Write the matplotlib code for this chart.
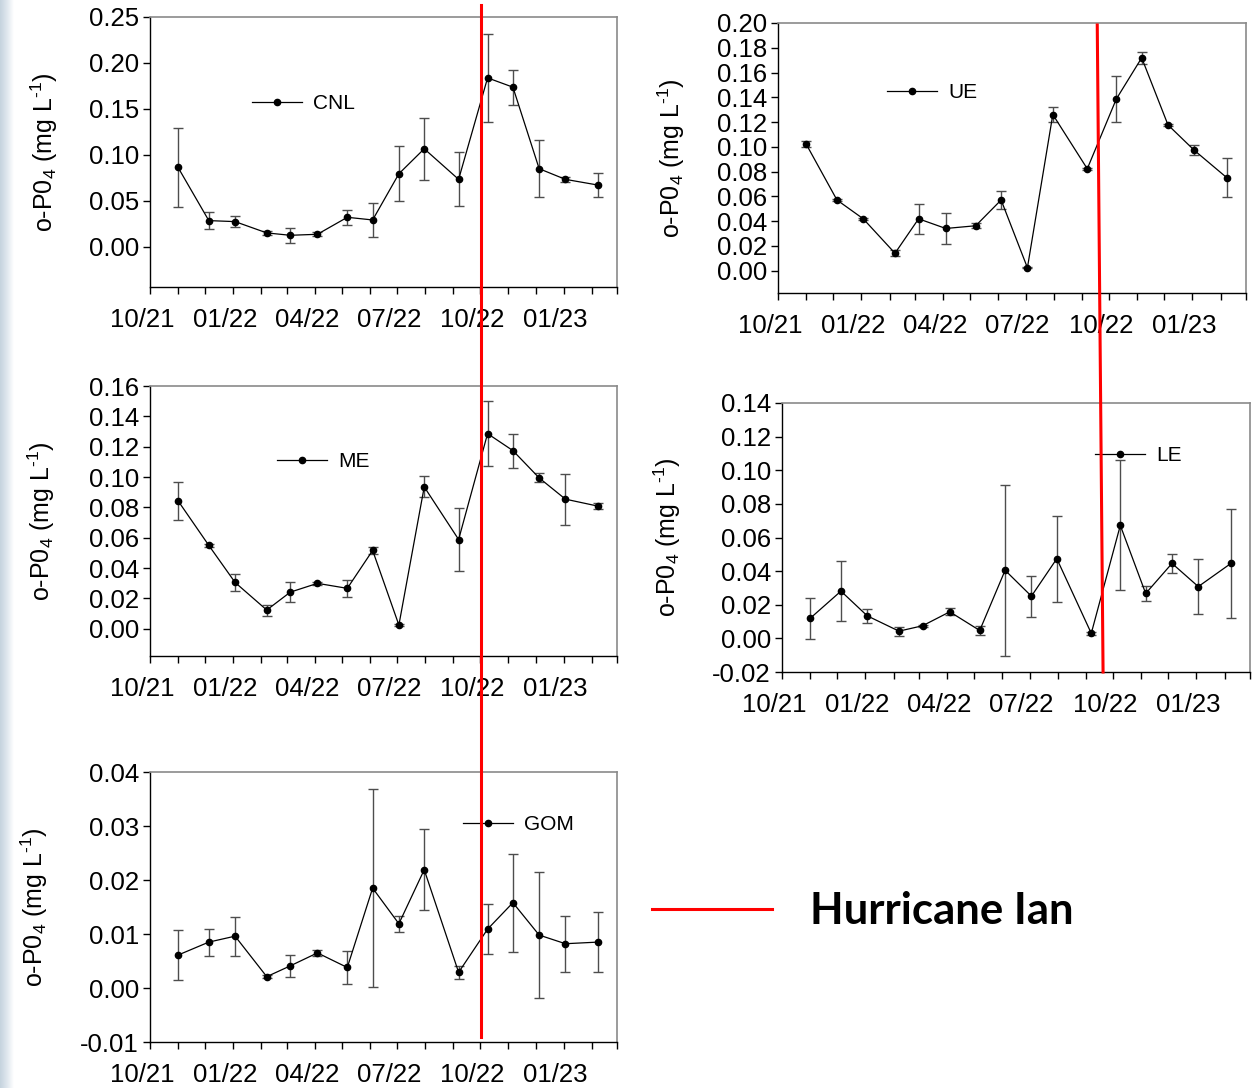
import matplotlib
matplotlib.use('Agg')
import matplotlib.pyplot as plt
import matplotlib.dates as mdates
import matplotlib.transforms as mtransforms
from matplotlib.lines import Line2D
from matplotlib.colors import LinearSegmentedColormap
import numpy as np
import pandas as pd

plt.rcParams['font.family'] = ['Liberation Sans', 'DejaVu Sans']
plt.rcParams['mathtext.fontset'] = 'custom'
plt.rcParams['mathtext.rm'] = 'Liberation Sans'
plt.rcParams['mathtext.it'] = 'Liberation Sans'

# sampling dates (same for every station)
dates = pd.to_datetime([
    '2021-11-01', '2021-12-05', '2022-01-03', '2022-02-07', '2022-03-05', '2022-04-04',
    '2022-05-07', '2022-06-04', '2022-07-03', '2022-07-31', '2022-09-07', '2022-10-09',
    '2022-11-06', '2022-12-05', '2023-01-03', '2023-02-08'])

# o-PO4 means and error (mg/L) for each station
cnl = [0.0862, 0.0283, 0.0272, 0.0149, 0.0123, 0.0134, 0.0319, 0.0290,
       0.0793, 0.1065, 0.0732, 0.1837, 0.1736, 0.0848, 0.0732, 0.0670]
cnl_err = [0.0432, 0.0096, 0.0058, 0.0022, 0.0084, 0.0020, 0.0080, 0.0181,
           0.0300, 0.0335, 0.0293, 0.0477, 0.0189, 0.0312, 0.0025, 0.0127]

ue = [0.1023, 0.0571, 0.0419, 0.0141, 0.0419, 0.0341, 0.0363, 0.0571,
      0.0024, 0.1261, 0.0823, 0.1386, 0.1719, 0.1177, 0.0972, 0.0750]
ue_err = [0.0025, 0.0010, 0.0010, 0.0024, 0.0122, 0.0122, 0.0022, 0.0070,
          0.0005, 0.0064, 0.0007, 0.0186, 0.0047, 0.0010, 0.0040, 0.0156]

me = [0.0843, 0.0549, 0.0305, 0.0123, 0.0241, 0.0299, 0.0266, 0.0516,
      0.0024, 0.0935, 0.0588, 0.1286, 0.1174, 0.0994, 0.0854, 0.0808]
me_err = [0.0126, 0.0010, 0.0057, 0.0036, 0.0064, 0.0012, 0.0057, 0.0021,
          0.0005, 0.0070, 0.0205, 0.0213, 0.0112, 0.0030, 0.0168, 0.0022]

le = [0.0119, 0.0281, 0.0134, 0.0043, 0.0075, 0.0158, 0.0047, 0.0405,
      0.0251, 0.0474, 0.0030, 0.0672, 0.0267, 0.0446, 0.0308, 0.0446]
le_err = [0.0122, 0.0177, 0.0042, 0.0027, 0.0005, 0.0020, 0.0026, 0.0508,
          0.0122, 0.0255, 0.0010, 0.0386, 0.0042, 0.0056, 0.0163, 0.0326]

gom = [0.0061, 0.0085, 0.0096, 0.0021, 0.0041, 0.0065, 0.0038, 0.0185,
       0.0119, 0.0219, 0.0029, 0.0109, 0.0158, 0.0098, 0.0082, 0.0085]
gom_err = [0.0046, 0.0025, 0.0036, 0.0003, 0.0020, 0.0005, 0.0030, 0.0183,
           0.0015, 0.0075, 0.0012, 0.0046, 0.0091, 0.0116, 0.0052, 0.0055]

# hurricane marker dates (hand drawn lines in original)
ian_left = ['2022-10-02', '2022-10-02']
ian_right = ['2022-09-18', '2022-09-20']

W, H = 1256, 1088
fig = plt.figure(figsize=(W / 100, H / 100), dpi=100)


def px_box(x0, y0, x1, y1):
    return [x0 / W, 1 - y1 / H, (x1 - x0) / W, (y1 - y0) / H]


# light strip at left edge of slide
strip = fig.add_axes([0, 0, 14 / W, 1])
grad = np.linspace(0, 1, 50).reshape(1, -1)
cmap = LinearSegmentedColormap.from_list('strip', ['#c5d3de', '#dfe7ee', '#ffffff'])
strip.imshow(grad, aspect='auto', cmap=cmap, extent=[0, 1, 0, 1])
strip.axis('off')

panels = [
    # name, values, errors, box (px), ylim, ystep, legend anchor, ylabel x
    ('CNL', cnl, cnl_err, (150, 17, 617, 287), (-0.044, 0.25), 0.05, (0.218, 0.678), -0.193),
    ('UE', ue, ue_err, (778, 23, 1246, 293), (-0.018, 0.20), 0.02, (0.233, 0.741), -0.195),
    ('ME', me, me_err, (150, 386, 617, 656), (-0.018, 0.16), 0.02, (0.272, 0.719), -0.199),
    ('LE', le, le_err, (782, 403, 1250, 672), (-0.02, 0.14), 0.02, (0.669, 0.803), -0.212),
    ('GOM', gom, gom_err, (150, 772, 617, 1042), (-0.01, 0.04), 0.01, (0.670, 0.804), -0.214),
]

axes = {}
shift = mtransforms.ScaledTranslation(-8 / 100, 0, fig.dpi_scale_trans)
for name, vals, errs, box, ylim, step, leg_xy, ylab_x in panels:
    ax = fig.add_axes(px_box(*box))
    axes[name] = ax
    ax.errorbar(dates, vals, yerr=errs, fmt='none', ecolor='#4d4d4d',
                elinewidth=1.0, capsize=3.5, capthick=1.0, zorder=2)
    ax.plot(dates, vals, color='black', lw=0.9, marker='o', ms=4.5,
            mfc='black', mec='black', label=name, zorder=3)
    ax.set_xlim(pd.Timestamp('2021-10-01'), pd.Timestamp('2023-03-01'))
    ax.set_ylim(*ylim)
    start = 0.0 if ylim[0] > -step + 1e-9 else -step
    ax.set_yticks(np.round(np.arange(start, ylim[1] + 1e-9, step), 3))
    ax.yaxis.set_major_formatter(plt.FormatStrFormatter('%.2f'))
    ax.xaxis.set_major_locator(mdates.MonthLocator(bymonth=[1, 4, 7, 10]))
    ax.xaxis.set_minor_locator(mdates.MonthLocator())
    ax.xaxis.set_major_formatter(mdates.DateFormatter('%m/%y'))
    ax.tick_params(axis='both', which='both', direction='out', length=5,
                   width=1, color='black')
    ax.tick_params(axis='x', which='major', labelsize=18.5, pad=10)
    ax.tick_params(axis='y', which='major', labelsize=18.5, pad=3)
    for s in ['left', 'bottom']:
        ax.spines[s].set_color('black')
        ax.spines[s].set_linewidth(1.0)
    for s in ['top', 'right']:
        ax.spines[s].set_color('#8a8a8a')
        ax.spines[s].set_linewidth(1.2)
    ax.set_ylabel(r'o-P0$_4$ (mg L$^{\text{-1}}$)', fontsize=18)
    ax.yaxis.set_label_coords(ylab_x, 0.5)
    ax.legend(loc='center left', bbox_to_anchor=leg_xy, frameon=False,
              fontsize=15, handlelength=2.4, handletextpad=0.55,
              borderpad=0, borderaxespad=0)
    for lab in ax.get_xticklabels():
        lab.set_transform(lab.get_transform() + shift)


def fig_x(ax, date):
    xd = mdates.date2num(pd.Timestamp(date))
    disp = ax.transData.transform((xd, 0))
    return fig.transFigure.inverted().transform(disp)[0]


# Hurricane Ian lines across the columns
fig.add_artist(Line2D([fig_x(axes['CNL'], ian_left[0]), fig_x(axes['GOM'], ian_left[1])],
                      [1 - 5 / H, 1 - 1037 / H], color='#ff0000', lw=2.2,
                      transform=fig.transFigure, zorder=10))
fig.add_artist(Line2D([fig_x(axes['UE'], ian_right[0]), fig_x(axes['LE'], ian_right[1])],
                      [1 - 25 / H, 1 - 672 / H], color='#ff0000', lw=2.2,
                      transform=fig.transFigure, zorder=10))

ian_handle = Line2D([], [], color='#ff0000', lw=2.2)
fig.legend([ian_handle], ['Hurricane Ian'], loc='center left',
           bbox_to_anchor=(652 / W, 1 - 911 / H), frameon=False,
           prop={'family': 'Lato', 'weight': 'bold', 'size': 31.5},
           handlelength=2.75, handletextpad=0.85, borderpad=0, borderaxespad=0)

fig.savefig('out.png', dpi=100)
